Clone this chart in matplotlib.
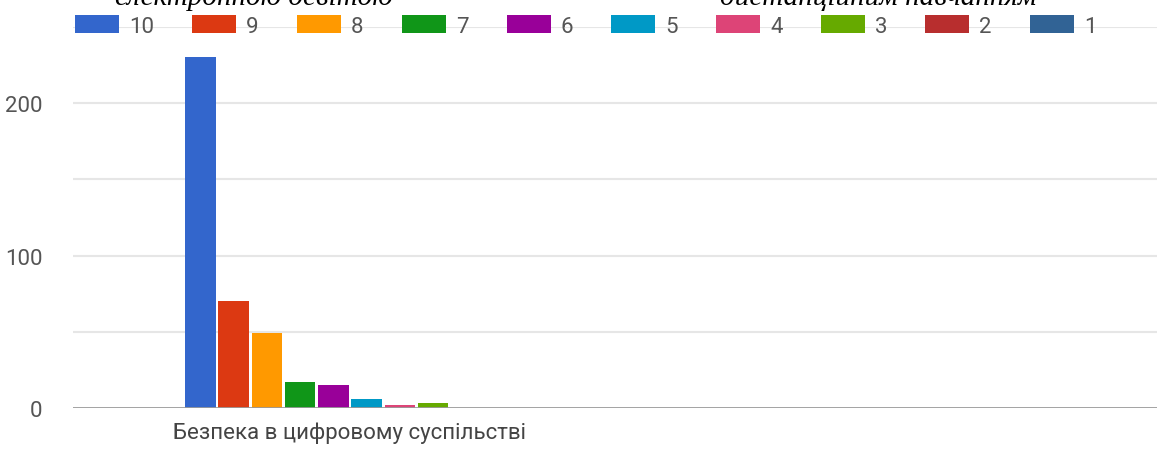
import numpy as np
import matplotlib.pyplot as plt
from matplotlib.patches import Patch

# data
category = ['Безпека в цифровому суспільстві']
series = ['10', '9', '8', '7', '6', '5', '4', '3', '2', '1']
values = [230, 70, 49, 17, 15, 6, 2, 3, 0, 0]
colors = ['#3366CC', '#DC3912', '#FF9900', '#109618', '#990099',
          '#0099C6', '#DD4477', '#66AA00', '#B82E2E', '#316395']
yticks = [0, 100, 200]

plt.rcParams['font.family'] = ['Roboto', 'DejaVu Sans']

fig = plt.figure(figsize=(11.57, 4.52), dpi=100)
ax = fig.add_axes([73 / 1157, 1 - 409 / 452, 1 - 73 / 1157, (409 - 28) / 452])

# grouped bars
step = 0.06
width = 0.055
for i, (s, v) in enumerate(zip(series, values)):
    x = 0 + (i - (len(series) - 1) / 2) * step
    ax.bar(x, v, width=width, color=colors[i], zorder=3)

ax.set_xlim(-0.5, 1.457)
ax.set_ylim(0, 250)
ax.set_xticks([0])
ax.set_xticklabels(category, fontsize=16, color='#444444')
ax.tick_params(length=0)
ax.set_yticks(yticks)
ax.set_yticklabels([str(t) for t in yticks], fontsize=16, color='#555555')
ax.tick_params(axis='x', pad=10)
ax.tick_params(axis='y', pad=22)

# gridlines
for g in [50, 100, 150, 200, 250]:
    ax.axhline(g, color='#e6e6e6', lw=1.5, zorder=0)
ax.axhline(0, color='#9a9a9a', lw=2, zorder=4)

for sp in ax.spines.values():
    sp.set_visible(False)

# legend
handles = [Patch(facecolor=c, label=s) for c, s in zip(colors, series)]
leg = fig.legend(handles=handles, loc='center left', ncol=10,
                 bbox_to_anchor=(66 / 1157, 1 - 27 / 452), frameon=False,
                 fontsize=16, handlelength=1.98, handleheight=0.82,
                 handletextpad=0.45, columnspacing=1.72, borderaxespad=0)
for t in leg.get_texts():
    t.set_color('#555555')

# cut-off heading from the page above the chart
fig.text(115 / 1157, 1 - 5 / 452, 'електронною освітою', family='Liberation Serif',
         style='italic', fontsize=21, va='baseline', ha='left')
fig.text(720 / 1157, 1 - 5 / 452, 'дистанційним навчанням', family='Liberation Serif',
         style='italic', fontsize=21, va='baseline', ha='left')

fig.savefig('out.png', dpi=100)
